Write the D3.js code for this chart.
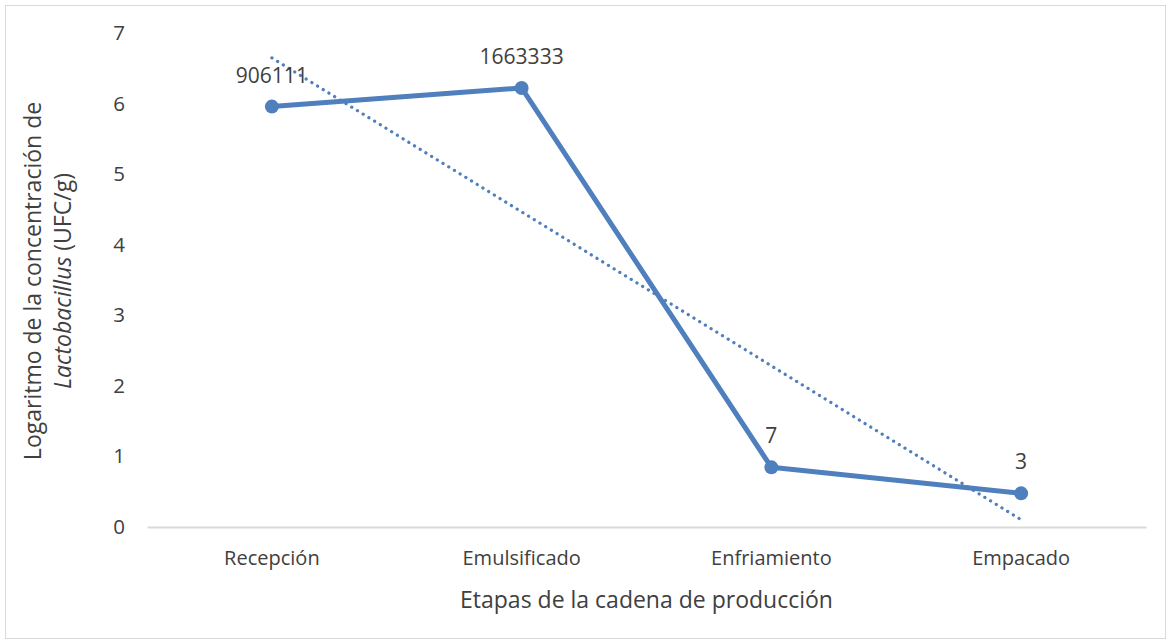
<!DOCTYPE html>
<html>
<head>
<meta charset="utf-8">
<script src="https://cdn.jsdelivr.net/npm/d3@7"></script>
<style>
  html, body { margin: 0; padding: 0; background: #fff; }
  svg { display: block; }
  text { font-family: "Open Sans", Lato, sans-serif; fill: #404040; }
</style>
</head>
<body>
<svg id="chart" width="1171" height="644"></svg>
<script>
// Production stages and the bacterial counts (UFC/g) measured at each one
const categories = ["Recepción", "Emulsificado", "Enfriamiento", "Empacado"];
const counts = [906111, 1663333, 7, 3];
const yTicks = [0, 1, 2, 3, 4, 5, 6, 7];

const logValues = counts.map(c => Math.log10(c));

const svg = d3.select("#chart");
const W = 1171, H = 644;
const plot = { left: 147, right: 1146, top: 33, bottom: 527 };
const blue = "#4f7fbd";
const font = "'Open Sans', Lato, sans-serif";

// outer frame
svg.append("rect")
  .attr("x", 5.5).attr("y", 5.5)
  .attr("width", W - 11).attr("height", H - 11)
  .attr("fill", "#fff").attr("stroke", "#d9d9d9").attr("stroke-width", 1);

const x = d3.scaleBand().domain(categories).range([plot.left, plot.right]);
const y = d3.scaleLinear().domain([0, 7]).range([plot.bottom, plot.top]);
const cx = d => x(d) + x.bandwidth() / 2;

// y axis: labels only
const yAxis = svg.append("g")
  .attr("transform", `translate(${plot.left},0)`)
  .call(d3.axisLeft(y).tickValues(yTicks).tickSize(0).tickPadding(22).tickFormat(d3.format("d")));
yAxis.select(".domain").remove();
yAxis.selectAll("text").style("font-size", "20.5px").attr("fill", "#404040")
  .style("font-family", font);

// x axis baseline and category labels
const xAxis = svg.append("g")
  .attr("transform", `translate(0,${plot.bottom})`)
  .call(d3.axisBottom(x).tickSize(0).tickPadding(24));
xAxis.select(".domain").attr("stroke", "#d9d9d9").attr("stroke-width", 2);
xAxis.selectAll("text").style("font-size", "20px").attr("fill", "#404040")
  .style("font-family", font);

// axis titles
svg.append("text")
  .attr("x", (plot.left + plot.right) / 2).attr("y", 608)
  .attr("text-anchor", "middle")
  .style("font-size", "23px")
  .text("Etapas de la cadena de producción");

const yTitle = svg.append("text")
  .attr("transform", "translate(0,281) rotate(-90)")
  .attr("text-anchor", "middle")
  .style("font-size", "23px");
yTitle.append("tspan").attr("x", 0).attr("y", 41)
  .text("Logaritmo de la concentración de");
const line2 = yTitle.append("tspan").attr("x", 0).attr("y", 71);
line2.append("tspan").style("font-style", "italic").text("Lactobacillus");
line2.append("tspan").text(" (UFC/g)");

// linear trend over the log values
const n = logValues.length;
const xs = d3.range(1, n + 1);
const mx = d3.mean(xs), my = d3.mean(logValues);
const slope = d3.sum(xs, (xi, i) => (xi - mx) * (logValues[i] - my)) / d3.sum(xs, xi => (xi - mx) ** 2);
const intercept = my - slope * mx;
svg.append("line")
  .attr("x1", cx(categories[0])).attr("y1", y(intercept + slope * 1))
  .attr("x2", cx(categories[n - 1])).attr("y2", y(intercept + slope * n))
  .attr("stroke", blue).attr("stroke-width", 3.2)
  .attr("stroke-linecap", "round")
  .attr("stroke-dasharray", "0.1 6.6");

// data series
const pts = categories.map((c, i) => ({ c, v: logValues[i], label: counts[i] }));
svg.append("path")
  .datum(pts)
  .attr("fill", "none")
  .attr("stroke", blue).attr("stroke-width", 5)
  .attr("stroke-linejoin", "round")
  .attr("d", d3.line().x(d => cx(d.c)).y(d => y(d.v)));

svg.selectAll("circle.pt").data(pts).join("circle")
  .attr("class", "pt")
  .attr("cx", d => cx(d.c)).attr("cy", d => y(d.v))
  .attr("r", 7).attr("fill", blue);

svg.selectAll("text.lbl").data(pts).join("text")
  .attr("class", "lbl")
  .attr("x", d => cx(d.c)).attr("y", d => y(d.v) - 24)
  .attr("text-anchor", "middle")
  .style("font-size", "21px")
  .text(d => d.label);
</script>
</body>
</html>
